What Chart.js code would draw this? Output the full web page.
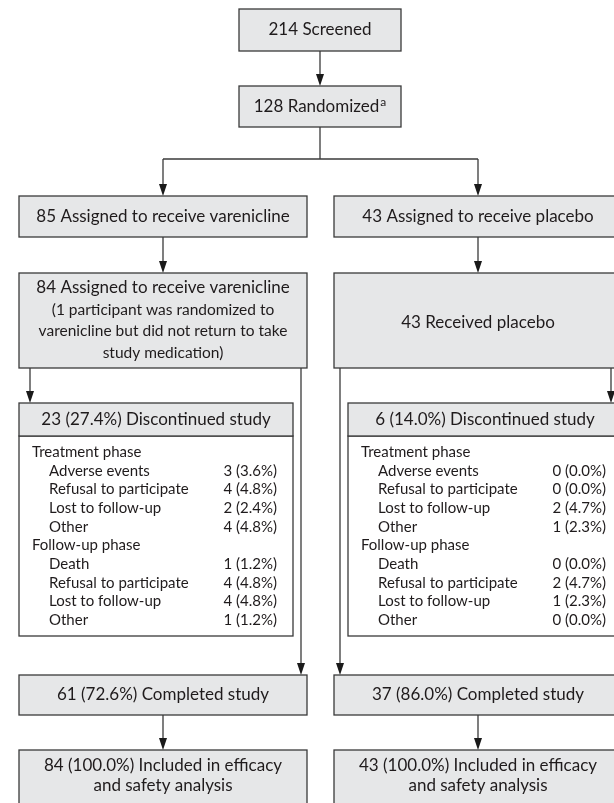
<!DOCTYPE html>
<html>
<head>
<meta charset="utf-8">
<script src="https://cdn.jsdelivr.net/npm/chart.js@4.4.1/dist/chart.umd.min.js"></script>
<style>
  html, body { margin: 0; padding: 0; background: #fff; }
  #wrap { width: 614px; height: 803px; position: relative; overflow: hidden; }
</style>
</head>
<body>
<div id="wrap"><canvas id="flowChart"></canvas></div>
<script>
// Participant counts per stage
const screened = 214;
const randomized = 128;
const armNames = ['varenicline', 'placebo'];
const assignedCounts = [85, 43];
const receivedCounts = [84, 43];
const discontinuedCounts = [23, 6];
const discontinuedPct = [27.4, 14.0];
const completedCounts = [61, 37];
const completedPct = [72.6, 86.0];
const includedCounts = [84, 43];
const includedPct = [100.0, 100.0];

// Reasons for discontinuation
const phaseNames = ['Treatment phase', 'Follow-up phase'];
const treatmentReasons = ['Adverse events', 'Refusal to participate', 'Lost to follow-up', 'Other'];
const followUpReasons = ['Death', 'Refusal to participate', 'Lost to follow-up', 'Other'];
const vareniclineTreatment = [3, 4, 2, 4];
const vareniclineTreatmentPct = [3.6, 4.8, 2.4, 4.8];
const vareniclineFollowUp = [1, 4, 4, 1];
const vareniclineFollowUpPct = [1.2, 4.8, 4.8, 1.2];
const placeboTreatment = [0, 0, 2, 1];
const placeboTreatmentPct = [0.0, 0.0, 4.7, 2.3];
const placeboFollowUp = [0, 2, 1, 0];
const placeboFollowUpPct = [0.0, 4.7, 2.3, 0.0];

// Page size and drawing style
const W = 614, H = 803;
const FONT = 'Lato, "Open Sans", sans-serif';
const TEXT = '#1f1b1c';
const LINE = '#3a3a3a';
const FILL = '#e6e7e8';

function pct(n, p) {
    return n + ' (' + p.toFixed(1) + '%)';
}

// Rows of the discontinued lists, one list per arm
function reasonRows(treat, treatPct, follow, followPct) {
    const rows = [{ label: phaseNames[0], indent: false }];
    treatmentReasons.forEach((r, i) => rows.push({ label: r, value: pct(treat[i], treatPct[i]), indent: true }));
    rows.push({ label: phaseNames[1], indent: false });
    followUpReasons.forEach((r, i) => rows.push({ label: r, value: pct(follow[i], followPct[i]), indent: true }));
    return rows;
}
const reasonLists = [
    reasonRows(vareniclineTreatment, vareniclineTreatmentPct, vareniclineFollowUp, vareniclineFollowUpPct),
    reasonRows(placeboTreatment, placeboTreatmentPct, placeboFollowUp, placeboFollowUpPct)
];

// Box texts per arm
const assignedText = assignedCounts.map((n, i) => n + ' Assigned to receive ' + armNames[i]);
const receivedText = [
    [receivedCounts[0] + ' Assigned to receive varenicline',
     '(1 participant was randomized to',
     'varenicline but did not return to take',
     'study medication)'],
    [receivedCounts[1] + ' Received placebo']
];
const discontinuedText = discontinuedCounts.map((n, i) => pct(n, discontinuedPct[i]) + ' Discontinued study');
const completedText = completedCounts.map((n, i) => pct(n, completedPct[i]) + ' Completed study');
const includedText = includedCounts.map((n, i) => [pct(n, includedPct[i]) + ' Included in efficacy', 'and safety analysis']);

// Layout of the flow diagram (page units)
const columns = [[19, 307], [334, 622]];
const layout = {
    screened: [239, 9, 401, 51],
    randomized: [239, 86, 401, 127],
    splitY: 159,
    assigned: [196, 237],
    received: [273, 368],
    discontinued: [403, 436, 636],
    completed: [675, 715],
    included: [750, 820]
};

const flowPlugin = {
    id: 'flowDiagram',
    afterDraw(chart) {
        const ctx = chart.ctx;
        const px = v => chart.scales.x.getPixelForValue(v);
        const py = v => chart.scales.y.getPixelForValue(v);

        function rect(x0, y0, x1, y1, fill) {
            ctx.save();
            ctx.fillStyle = fill;
            ctx.fillRect(px(x0), py(y0), px(x1) - px(x0), py(y1) - py(y0));
            ctx.strokeStyle = LINE;
            ctx.lineWidth = 1.3;
            ctx.strokeRect(px(x0), py(y0), px(x1) - px(x0), py(y1) - py(y0));
            ctx.restore();
        }
        function line(pts) {
            ctx.save();
            ctx.strokeStyle = LINE;
            ctx.lineWidth = 1.3;
            ctx.beginPath();
            pts.forEach((p, i) => i ? ctx.lineTo(px(p[0]), py(p[1])) : ctx.moveTo(px(p[0]), py(p[1])));
            ctx.stroke();
            ctx.restore();
        }
        function arrow(x, y0, y1) {
            line([[x, y0], [x, y1 - 10]]);
            ctx.save();
            ctx.fillStyle = '#1a1a1a';
            ctx.beginPath();
            ctx.moveTo(px(x) - 4, py(y1) - 12);
            ctx.lineTo(px(x) + 4, py(y1) - 12);
            ctx.lineTo(px(x), py(y1));
            ctx.closePath();
            ctx.fill();
            ctx.restore();
        }
        function text(str, x, y, size, align) {
            ctx.save();
            ctx.fillStyle = TEXT;
            ctx.font = size + 'px ' + FONT;
            ctx.textAlign = align || 'center';
            ctx.textBaseline = 'middle';
            ctx.fillText(str, px(x), py(y));
            ctx.restore();
        }

        // Screened and randomized
        const s = layout.screened, r = layout.randomized;
        const midX = (s[0] + s[2]) / 2;
        rect(s[0], s[1], s[2], s[3], FILL);
        text(screened + ' Screened', midX, (s[1] + s[3]) / 2, 17);
        arrow(midX, s[3], r[1]);
        rect(r[0], r[1], r[2], r[3], FILL);
        ctx.save();
        ctx.font = '17px ' + FONT;
        const main = randomized + ' Randomized';
        const wMain = ctx.measureText(main).width;
        ctx.font = '12px ' + FONT;
        const wSup = ctx.measureText('a').width;
        ctx.restore();
        const start = midX - (wMain + wSup + 1) / 2;
        text(main, start, (r[1] + r[3]) / 2, 17, 'left');
        text('a', start + wMain + 1, (r[1] + r[3]) / 2 - 4, 12, 'left');

        const centers = columns.map(c => (c[0] + c[1]) / 2);
        line([[midX, r[3]], [midX, layout.splitY]]);
        line([[centers[0], layout.splitY], [centers[1], layout.splitY]]);

        columns.forEach((c, i) => {
            const cx = centers[i];
            arrow(cx, layout.splitY, layout.assigned[0]);
            rect(c[0], layout.assigned[0], c[1], layout.assigned[1], FILL);
            text(assignedText[i], cx, (layout.assigned[0] + layout.assigned[1]) / 2, 17);

            arrow(cx, layout.assigned[1], layout.received[0]);
            const rv = layout.received;
            rect(c[0], rv[0], c[1], rv[1], FILL);
            const lines = receivedText[i];
            if (lines.length === 1) {
                text(lines[0], cx, (rv[0] + rv[1]) / 2 + 2, 17);
            } else {
                text(lines[0], cx, rv[0] + 15, 17);
                for (let k = 1; k < lines.length; k++) {
                    text(lines[k], cx, rv[0] + 15 + k * 21.7, 15.5);
                }
            }

            // Discontinued box sits on the outer side of each column
            const d = layout.discontinued;
            const dx0 = i === 0 ? c[0] : c[0] + 14;
            const dx1 = i === 0 ? c[1] - 14 : c[1];
            const sideX = i === 0 ? c[0] + 11 : c[1] - 11;
            const passX = i === 0 ? c[1] - 6 : c[0] + 6;
            arrow(sideX, rv[1], d[0]);
            rect(dx0, d[1], dx1, d[2], '#ffffff');
            rect(dx0, d[0], dx1, d[1], FILL);
            text(discontinuedText[i], (dx0 + dx1) / 2, (d[0] + d[1]) / 2, 17);
            reasonLists[i].forEach((row, k) => {
                const y = d[1] + 16 + k * 18.7;
                text(row.label, dx0 + (row.indent ? 30 : 13), y, 15, 'left');
                if (row.value) text(row.value, dx1 - 16, y, 15, 'right');
            });

            const cp = layout.completed;
            arrow(passX, rv[1], cp[0]);
            rect(c[0], cp[0], c[1], cp[1], FILL);
            text(completedText[i], cx, (cp[0] + cp[1]) / 2, 17);

            const inc = layout.included;
            arrow(cx, cp[1], inc[0]);
            rect(c[0], inc[0], c[1], inc[1], FILL);
            text(includedText[i][0], cx, inc[0] + 16, 17);
            text(includedText[i][1], cx, inc[0] + 36, 17);
        });
    }
};

new Chart(document.getElementById('flowChart'), {
    type: 'scatter',
    data: { datasets: [{ data: [], pointRadius: 0 }] },
    options: {
        responsive: true,
        maintainAspectRatio: false,
        animation: false,
        layout: { padding: 0 },
        plugins: { legend: { display: false }, tooltip: { enabled: false } },
        scales: {
            x: { type: 'linear', min: 0, max: W, display: false },
            y: { type: 'linear', min: 0, max: H, reverse: true, display: false }
        }
    },
    plugins: [flowPlugin]
});
</script>
</body>
</html>
